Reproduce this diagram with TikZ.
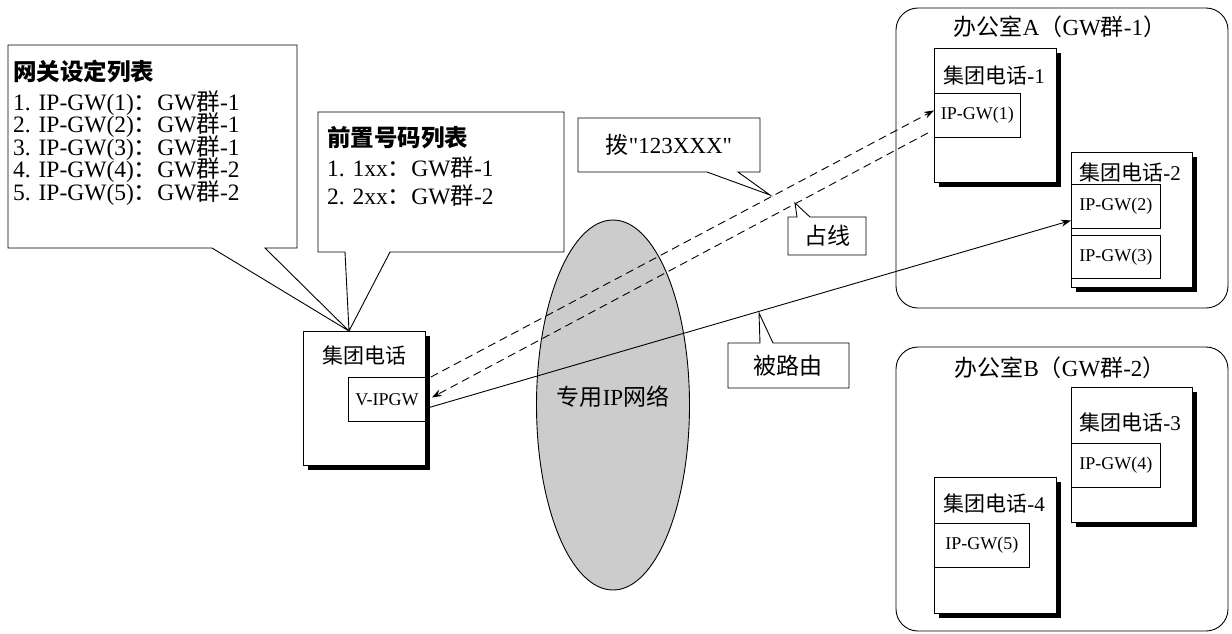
\documentclass[tikz,border=0pt]{standalone}
\usepackage{fontspec}
\setmainfont{Liberation Serif}[Ligatures=TeXOff]
\newfontfamily\zhfont{Noto Sans CJK SC}
\usetikzlibrary{arrows.meta,shapes.geometric,shadows}
\newcommand\zh[1]{{\zhfont #1}}
\definecolor{netgray}{HTML}{CCCCCC}
\begin{document}
\begin{tikzpicture}[x=1pt,y=-1pt,
  lw/.style={line width=0.9pt},
  callout/.style={lw, draw, fill=white, line join=miter},
  office/.style={lw, draw, rounded corners=22pt},
  phone/.style={lw, draw, fill=white, inner sep=0pt, anchor=north west,
    drop shadow={shadow xshift=5pt, shadow yshift=-5pt, fill=black, opacity=1}},
  gw/.style={lw, draw, fill=white, inner sep=0pt, anchor=north west, font=\fontsize{18}{18}\selectfont},
  lbl/.style={inner sep=0pt, font=\fontsize{21}{21}\selectfont},
  big/.style={inner sep=0pt, font=\fontsize{23}{23}\selectfont},
  txt/.style={inner sep=0pt, anchor=base west, font=\fontsize{23.5}{23.5}\selectfont},
  dsh/.style={lw, dash pattern=on 8pt off 5pt},
  tip/.style={-{Stealth[length=10pt,width=7pt]}}
]
\useasboundingbox (0,0) rectangle (1232,633);

% offices
\draw[office] (896,8) rectangle (1228,308);
\draw[office] (896,347) rectangle (1228,631);
\node[big] (offA) at (1060,27) {\zh{办公室}A\zh{（}GW\zh{群}-1\zh{）}};
\node[big] (offB) at (1060,368) {\zh{办公室}B\zh{（}GW\zh{群}-2\zh{）}};

% network
\node[ellipse, lw, draw, fill=netgray, minimum width=153pt, minimum height=370pt, inner sep=0pt] (net) at (613,405) {};
\node[big] (netl) at (613,397) {\zh{专用}IP\zh{网络}};

% callout 1
\draw[callout] (8,45) -- (297,45) -- (297,248) -- (265,248) -- (349,331) -- (212,248) -- (8,248) -- cycle;
\node[txt] (c1t) at (13,80) {\zh{\bfseries 网关设定列表}};
\node[txt] (c1a) at (13,110) {1. IP-GW(1)\zh{：}GW\zh{群}-1};
\node[txt] (c1b) at (13,132.5) {2. IP-GW(2)\zh{：}GW\zh{群}-1};
\node[txt] (c1c) at (13,155) {3. IP-GW(3)\zh{：}GW\zh{群}-1};
\node[txt] (c1d) at (13,177.5) {4. IP-GW(4)\zh{：}GW\zh{群}-2};
\node[txt] (c1e) at (13,200) {5. IP-GW(5)\zh{：}GW\zh{群}-2};

% callout 2
\draw[callout] (318,112) -- (564,112) -- (564,252) -- (390,252) -- (349,331) -- (345,252) -- (318,252) -- cycle;
\node[txt] (c2t) at (327,146) {\zh{\bfseries 前置号码列表}};
\node[txt] (c2a) at (327,176) {1. 1xx\zh{：}GW\zh{群}-1};
\node[txt] (c2b) at (327,204) {2. 2xx\zh{：}GW\zh{群}-2};

% main phone
\node[phone, minimum width=122pt, minimum height=134pt] (p0) at (303,331) {};
\node[lbl] (p0l) at (364,355) {\zh{集团电话}};
\node[gw, minimum width=77pt, minimum height=44pt] (vg) at (348,377) {V-IPGW};

% office A phones
\node[phone, minimum width=122pt, minimum height=134pt] (p1) at (934,48) {};
\node[lbl] (p1l) at (994,75) {\zh{集团电话}-1};
\node[gw, minimum width=86pt, minimum height=44pt] (g1) at (934,93) {IP-GW(1)};
\node[phone, minimum width=121pt, minimum height=135pt] (p2) at (1071,152) {};
\node[lbl] (p2l) at (1130,172) {\zh{集团电话}-2};
\node[gw, minimum width=89pt, minimum height=44pt] (g2) at (1071,184) {IP-GW(2)};
\node[gw, minimum width=89pt, minimum height=43pt] (g3) at (1071,235) {IP-GW(3)};

% office B phones
\node[phone, minimum width=121pt, minimum height=135pt] (p3) at (1071,387) {};
\node[lbl] (p3l) at (1130,422) {\zh{集团电话}-3};
\node[gw, minimum width=89pt, minimum height=44pt] (g4) at (1071,443) {IP-GW(4)};
\node[phone, minimum width=122pt, minimum height=136pt] (p4) at (934,477) {};
\node[lbl] (p4l) at (994,503) {\zh{集团电话}-4};
\node[gw, minimum width=95pt, minimum height=44pt] (g5) at (934,523) {IP-GW(5)};

% connectors
\draw[dsh, tip] ([xshift=5pt]vg.north east) -- ([yshift=5pt]g1.west);
\draw[dsh, tip] ([xshift=-6pt,yshift=5pt]g1.south west) -- ([xshift=6pt,yshift=2pt]vg.east);
\draw[lw, tip] ([yshift=-9pt]vg.east) -- ([yshift=-14pt]g2.west);

% small callouts
\draw[callout] (578,118) -- (760,118) -- (760,172) -- (738,172) -- (770,195) -- (707,172) -- (578,172) -- cycle;
\node[big] (dial) at (669,145) {\zh{拨}"123XXX"};
\draw[callout] (788,217) -- (797,217) -- (795,203) -- (810,217) -- (866,217) -- (866,255) -- (788,255) -- cycle;
\node[big] (busy) at (827,236) {\zh{占线}};
\draw[callout] (728,343) -- (760,343) -- (759,313) -- (773,343) -- (849,343) -- (849,388) -- (728,388) -- cycle;
\node[big] (routed) at (788,366) {\zh{被路由}};
\end{tikzpicture}
\end{document}
